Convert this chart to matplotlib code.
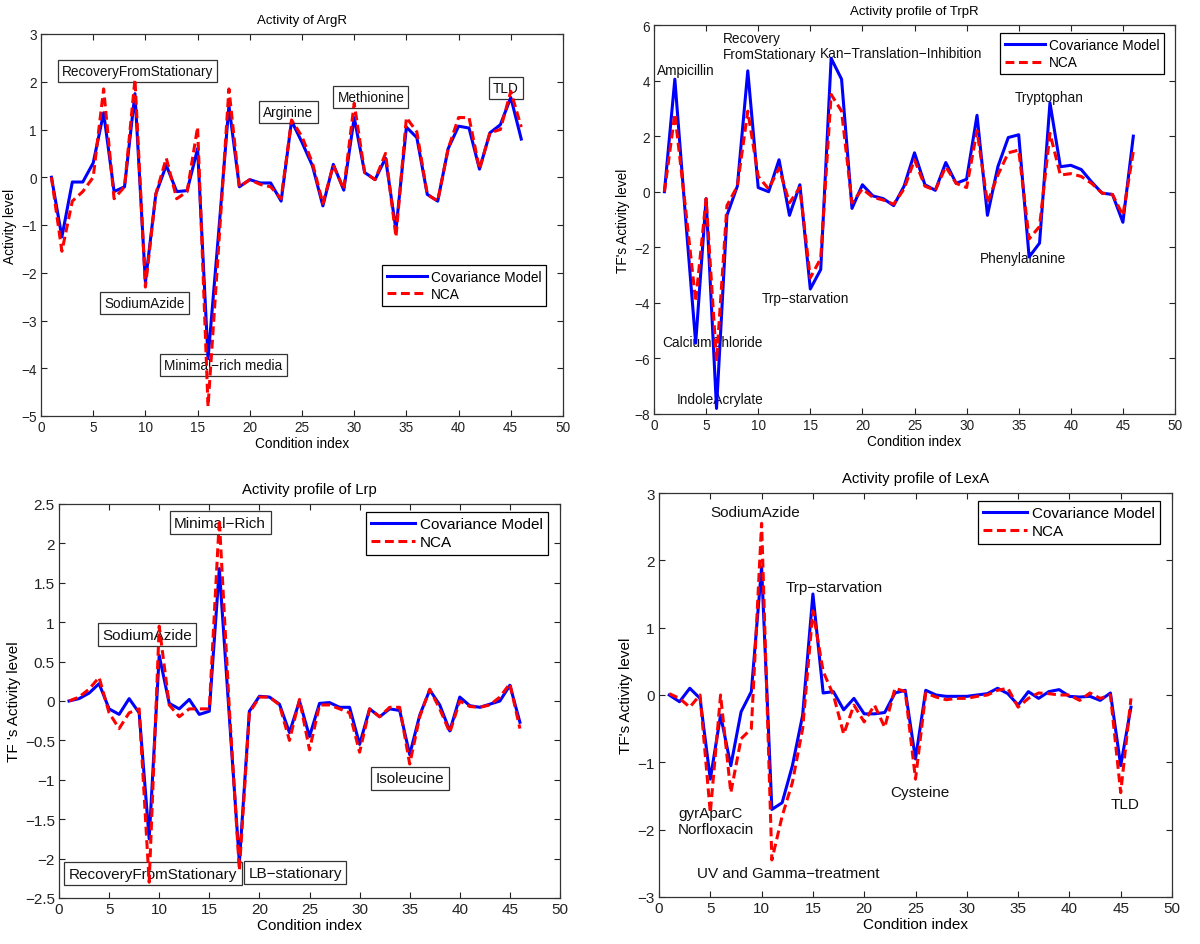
import numpy as np
import matplotlib
matplotlib.use("Agg")
import matplotlib.pyplot as plt

plt.rcParams['font.family'] = ['Liberation Sans', 'DejaVu Sans']

x = list(range(1, 47))

# ---------------- ArgR ----------------
argr_cov = [0, -1.25, -0.1, -0.1, 0.3, 1.35, -0.3, -0.2, 1.75, -2.2,
            -0.35, 0.25, -0.3, -0.28, 0.6, -3.8, -1.2, 1.5, -0.2, -0.05,
            -0.12, -0.12, -0.5, 1.18, 0.73, 0.24, -0.6, 0.27, -0.27, 1.25,
            0.1, -0.05, 0.4, -1.1, 1.05, 0.83, -0.36, -0.5, 0.6, 1.07,
            1.03, 0.17, 0.93, 1.1, 1.67, 0.8]
argr_nca = [0, -1.55, -0.5, -0.3, 0.0, 1.85, -0.45, -0.2, 2.05, -2.3,
            -0.35, 0.4, -0.45, -0.3, 1.05, -4.8, -1.5, 1.85, -0.2, -0.05,
            -0.15, -0.2, -0.45, 1.2, 0.85, 0.3, -0.55, 0.25, -0.25, 1.55,
            0.1, -0.05, 0.5, -1.25, 1.25, 0.95, -0.36, -0.5, 0.6, 1.25,
            1.25, 0.17, 0.93, 1.0, 1.8, 1.05]
argr_labels = ["RecoveryFromStationary", "SodiumAzide", "Minimal\u2212rich media",
               "Arginine", "Methionine", "TLD"]
argr_lx = [2.0, 6.05, 11.8, 21.3, 28.4, 43.3]
argr_ly = [2.22, -2.64, -3.93, 1.36, 1.68, 1.87]

# ---------------- TrpR ----------------
trpr_cov = [0, 4.05, -0.8, -5.45, -0.25, -7.8, -0.85, 0.2, 4.35, 0.15,
            0.0, 1.15, -0.85, 0.25, -3.5, -2.8, 4.8, 4.05, -0.6, 0.25,
            -0.15, -0.25, -0.5, 0.2, 1.4, 0.25, 0.05, 1.05, 0.3, 0.45,
            2.75, -0.85, 0.9, 1.95, 2.05, -2.35, -1.85, 3.2, 0.9, 0.95,
            0.8, 0.35, -0.05, -0.1, -1.1, 2.0]
trpr_nca = [0, 2.8, -0.5, -3.95, -0.25, -6.1, -0.5, 0.2, 2.9, 0.55,
            0.1, 0.85, -0.4, 0.15, -3.1, -2.4, 3.5, 2.9, -0.4, 0.1,
            -0.2, -0.3, -0.45, 0.1, 1.15, 0.2, 0.05, 0.9, 0.3, 0.15,
            2.2, -0.4, 0.6, 1.4, 1.5, -1.7, -1.25, 2.1, 0.6, 0.65,
            0.55, 0.3, -0.05, -0.1, -0.85, 1.45]
trpr_labels = ["Ampicillin", "Recovery\nFromStationary", "Kan\u2212Translation\u2212Inhibition",
               "Trp\u2212starvation", "CalciumChloride", "IndoleAcrylate",
               "Tryptophan", "Phenylalanine"]
trpr_lx = [0.3, 6.6, 15.9, 10.35, 0.8, 2.15, 34.6, 31.3]
trpr_ly = [4.39, 5.25, 4.98, -3.84, -5.42, -7.46, 3.4, -2.4]

# ---------------- Lrp ----------------
lrp_cov = [0, 0.03, 0.1, 0.22, -0.1, -0.17, 0.03, -0.15, -1.75, 0.58,
           -0.03, -0.1, 0.02, -0.17, -0.13, 1.68, -0.2, -2.05, -0.13, 0.06,
           0.05, -0.04, -0.4, 0.0, -0.45, -0.03, -0.02, -0.08, -0.08, -0.55,
           -0.1, -0.2, -0.1, -0.12, -0.68, -0.18, 0.14, -0.05, -0.38, 0.05,
           -0.06, -0.08, -0.04, 0.0, 0.2, -0.27]
lrp_nca = [0, 0.05, 0.15, 0.3, -0.15, -0.35, -0.15, -0.1, -2.3, 0.95,
           -0.05, -0.2, -0.1, -0.1, -0.1, 2.3, -0.1, -2.15, -0.15, 0.05,
           0.05, -0.05, -0.5, 0.02, -0.62, -0.05, -0.05, -0.1, -0.15, -0.65,
           -0.1, -0.2, -0.08, -0.08, -0.8, -0.2, 0.15, -0.1, -0.4, 0.0,
           -0.07, -0.08, -0.05, 0.05, 0.22, -0.35]
lrp_labels = ["Minimal\u2212Rich", "SodiumAzide", "RecoveryFromStationary",
              "LB\u2212stationary", "Isoleucine"]
lrp_lx = [11.5, 4.3, 1.0, 18.9, 31.6]
lrp_ly = [2.26, 0.84, -2.19, -2.18, -0.98]

# ---------------- LexA ----------------
lexa_cov = [0, -0.1, 0.1, -0.05, -1.25, -0.3, -1.05, -0.25, 0.05, 1.9,
            -1.7, -1.6, -1.05, -0.3, 1.5, 0.03, 0.05, -0.22, -0.05, -0.28,
            -0.28, -0.26, 0.03, 0.07, -0.95, 0.07, 0.0, -0.02, -0.02, -0.02,
            0.0, 0.02, 0.1, 0.02, -0.15, 0.05, -0.05, 0.05, 0.08, -0.02,
            -0.03, -0.02, -0.08, 0.03, -1.05, -0.18]
lexa_nca = [0.02, -0.05, -0.18, 0.0, -1.75, 0.0, -1.45, -0.65, -0.5, 2.55,
            -2.45, -1.8, -1.3, -0.5, 1.25, 0.35, 0.0, -0.58, -0.15, -0.4,
            -0.15, -0.48, 0.1, 0.05, -1.25, 0.03, -0.03, -0.07, -0.05, -0.05,
            -0.02, 0.0, 0.07, 0.1, -0.18, -0.05, 0.03, 0.02, 0.0, 0.0,
            -0.08, 0.03, -0.05, 0.0, -1.45, -0.05]
lexa_labels = ["SodiumAzide", "Trp\u2212starvation", "gyrAparC\nNorfloxacin",
               "UV and Gamma\u2212treatment", "Cysteine", "TLD"]
lexa_lx = [5.05, 12.35, 1.85, 3.75, 22.5, 44.0]
lexa_ly = [2.72, 1.6, -1.87, -2.64, -1.44, -1.62]

fig = plt.figure(figsize=(12, 9.45), dpi=100)

panels = [
    dict(rect=[41/1200, 1-417/945, 522/1200, 382/945], cov=argr_cov, nca=argr_nca,
         title="Activity of ArgR", ylabel="Activity level", ylim=(-5, 3),
         yticks=np.arange(-5, 3.01, 1), ytl=None, labels=argr_labels, lx=argr_lx, ly=argr_ly,
         boxed=True, leg=(0.9674, 0.3953), fs=9.8),
    dict(rect=[654/1200, 1-415/945, 521/1200, 389/945], cov=trpr_cov, nca=trpr_nca,
         title="Activity profile of TrpR", ylabel="TF's Activity level", ylim=(-8, 6),
         yticks=np.arange(-8, 6.01, 2), ytl=None, labels=trpr_labels, lx=trpr_lx, ly=trpr_ly,
         boxed=False, leg=(0.979, 0.979), fs=9.8),
    dict(rect=[59/1200, 1-899/945, 501/1200, 394/945], cov=lrp_cov, nca=lrp_nca,
         title="Activity profile of Lrp", ylabel="TF 's Activity level", ylim=(-2.5, 2.5),
         yticks=np.arange(-2.5, 2.51, 0.5),
         ytl=["\u22122.5", "\u22122", "\u22121.5", "\u22121", "\u22120.5", "0", "0.5", "1", "1.5", "2", "2.5"],
         labels=lrp_labels, lx=lrp_lx, ly=lrp_ly,
         boxed=True, leg=(0.976, 0.9797), fs=11),
    dict(rect=[659/1200, 1-898/945, 513/1200, 404/945], cov=lexa_cov, nca=lexa_nca,
         title="Activity profile of LexA", ylabel="TF's Activity level", ylim=(-3, 3),
         yticks=np.arange(-3, 3.01, 1), ytl=None, labels=lexa_labels, lx=lexa_lx, ly=lexa_ly,
         boxed=False, leg=(0.9766, 0.980), fs=11),
]

for p in panels:
    ax = fig.add_axes(p['rect'])
    fs = p['fs']
    ax.plot(x, p['cov'], color=(0, 0, 1), lw=2.2, label="Covariance Model", zorder=3)
    ax.plot(x, p['nca'], color=(1, 0, 0), lw=2.2, ls=(0, (2.9, 1.5)), label="NCA", zorder=4)
    ax.set_xlim(0, 50)
    ax.set_ylim(*p['ylim'])
    ax.set_xticks(np.arange(0, 51, 5))
    ax.set_yticks(p['yticks'])
    if p['ytl'] is not None:
        ax.set_yticklabels(p['ytl'])
    ax.tick_params(direction='in', top=True, right=True, length=4, width=0.8,
                   labelsize=fs, colors='#222222', pad=3)
    for s in ax.spines.values():
        s.set_color('#333333')
        s.set_linewidth(0.9)
    ax.set_title(p['title'], fontsize=fs - 0.3, pad=8)
    ax.set_xlabel("Condition index", fontsize=fs, labelpad=1)
    ax.set_ylabel(p['ylabel'], fontsize=fs, labelpad=3)
    for lab, tx, ty in zip(p['labels'], p['lx'], p['ly']):
        kw = dict(ha='left', va='center', fontsize=fs, color='#111111', zorder=2,
                  linespacing=1.15)
        if p['boxed']:
            kw['bbox'] = dict(boxstyle='square,pad=0.3', facecolor='white',
                              edgecolor='#333333', linewidth=0.9)
        ax.text(tx, ty, lab, **kw)
    leg = ax.legend(loc='upper right', bbox_to_anchor=p['leg'], borderaxespad=0,
                    fontsize=fs, fancybox=False, framealpha=1, edgecolor='black',
                    handlelength=2.9, handletextpad=0.3, labelspacing=0.25,
                    borderpad=0.35)
    leg.get_frame().set_linewidth(0.9)
    leg.set_zorder(10)

fig.savefig("out.png", dpi=100)
